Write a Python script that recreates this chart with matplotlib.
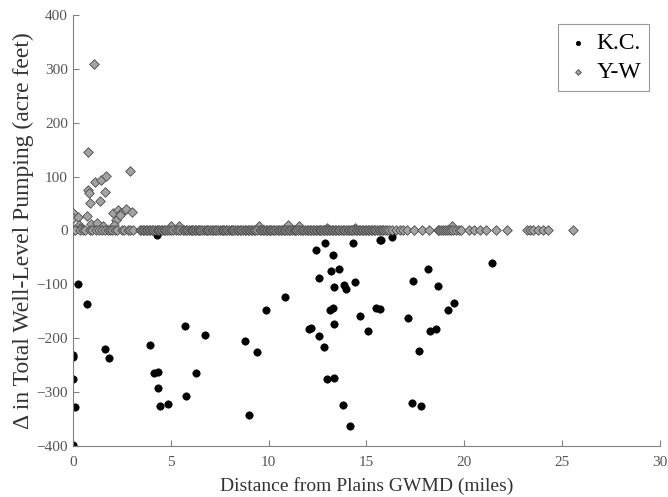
import matplotlib
matplotlib.use("Agg")
import matplotlib.pyplot as plt

# K.C. series
kc_x = [0.0, 0.0, 0.0, 0.02, 0.1, 0.27, 0.73, 1.63, 1.84, 3.96, 4.13, 4.37, 4.29, 4.34,
        4.46, 4.85, 5.73, 5.78, 6.28, 6.73, 8.79, 9.0, 9.42, 9.88, 10.82, 12.09,
        12.91, 14.29, 15.7, 15.73, 16.31, 12.45, 13.3, 13.2, 13.6, 12.6, 13.32, 13.86,
        13.95, 14.42, 13.13, 13.3, 14.66, 15.49, 15.7, 13.32, 12.19, 12.6, 12.81,
        15.09, 17.12, 17.4, 18.14, 18.66, 19.17, 19.5, 18.27, 18.57, 17.67, 21.44,
        12.99, 13.33, 13.79, 17.31, 17.79, 14.18]
kc_y = [-231, -234, -276, -398, -327, -100, -137, -220, -237, -212, -265, -262, -8, -292,
        -325, -322, -178, -308, -265, -194, -205, -342, -225, -148, -124, -182,
        -23, -23, -18, -18, -12, -37, -45, -75, -72, -88, -104, -101,
        -109, -95, -147, -144, -158, -144, -145, -174, -181, -196, -216,
        -186, -162, -93, -72, -103, -148, -134, -187, -183, -224, -61,
        -276, -274, -324, -321, -325, -362]

# Y-W series: scattered positive values near the district
yw_pos_x = [1.07, 0.8, 0.77, 0.82, 0.9, 1.14, 1.44, 1.72, 1.63, 1.38, 2.94, 0.02, 0.0, 0.24,
            0.73, 2.06, 2.31, 2.45, 2.72, 3.01, 2.23, 2.4, 0.92, 1.26, 0.3, 0.39, 1.55, 2.1,
            5.03, 5.4, 9.5, 11.0, 11.55, 19.37, 13.0, 14.4]
yw_pos_y = [309, 145, 75, 70, 51, 90, 93, 101, 71, 54, 111, 33, 24, 25,
            26, 32, 38, 33, 39, 35, 20, 28, 12, 13, 11, 5, 8, 10,
            8, 9, 8, 10, 8, 8, 5, 5]

# Y-W series: values at zero along the band
yw_zero_x = [0.0, 0.12, 0.35, 0.5, 0.62, 0.88, 1.0, 1.18, 1.32, 1.5, 1.62, 1.8, 1.92, 2.02,
             2.15, 2.28, 2.52, 2.63, 2.8, 2.92, 3.05,
             3.42, 3.5, 3.57, 3.66, 3.72, 3.81, 3.9, 3.96, 4.05, 4.12, 4.2, 4.28, 4.33, 4.41,
             4.5, 4.58, 4.66, 4.72, 4.8, 4.9, 5.0, 5.12, 5.25, 5.35, 5.5, 5.62, 5.7, 5.78,
             5.85, 5.95, 6.02, 6.1, 6.16, 6.22, 6.3, 6.38, 6.45, 6.52, 6.6, 6.7, 6.78, 6.86,
             6.92, 7.0, 7.1, 7.18, 7.25, 7.33, 7.4, 7.5, 7.6, 7.68, 7.75, 7.82, 7.9, 7.98,
             8.06, 8.12, 8.2, 8.3, 8.38, 8.45, 8.52, 8.6, 8.7, 8.78, 8.86, 8.95, 9.02, 9.1,
             9.18, 9.25, 9.33, 9.42, 9.55, 9.62, 9.7, 9.78, 9.85, 9.92, 10.0, 10.08, 10.15,
             10.22, 10.3, 10.38, 10.46, 10.55, 10.62, 10.7, 10.78, 10.85, 10.92, 11.05,
             11.12, 11.2, 11.28, 11.35, 11.42, 11.5, 11.6, 11.7, 11.78, 11.86, 11.95, 12.02,
             12.1, 12.18, 12.25, 12.32, 12.4, 12.48, 12.56, 12.62, 12.7, 12.78, 12.85,
             12.92, 13.0, 13.08, 13.15, 13.22, 13.3, 13.38, 13.46, 13.55, 13.62, 13.7,
             13.78, 13.86, 13.95, 14.05, 14.12, 14.2, 14.28, 14.36, 14.45, 14.52, 14.6,
             14.68, 14.76, 14.85, 14.92, 15.0, 15.08, 15.15, 15.22, 15.3, 15.38, 15.46,
             15.55, 15.62, 15.7, 15.78, 15.86, 15.95, 16.05, 16.15, 16.3, 16.5, 16.7, 16.85,
             17.05, 17.45, 17.84, 18.18, 18.64, 18.72, 18.8, 18.9, 19.0, 19.1, 19.2, 19.3,
             19.45, 19.6, 19.75, 19.83, 20.26, 20.5, 20.8, 21.1, 21.6, 22.2,
             23.2, 23.38, 23.5, 23.75, 24.0, 24.3, 25.55]
yw_zero_y = [0] * len(yw_zero_x)

yw_x = yw_pos_x + yw_zero_x
yw_y = yw_pos_y + yw_zero_y

plt.rcParams['font.family'] = ['Liberation Serif', 'DejaVu Serif']

fig = plt.figure(figsize=(6.68, 4.97), dpi=100)
ax = fig.add_axes([0.109, 0.1026, 0.879, 0.8674])

ax.scatter(kc_x, kc_y, s=28, marker='o', color='black', edgecolors='black',
           linewidths=0.5, label='K.C.', zorder=2)
ax.scatter(yw_x, yw_y, s=24, marker='D', color='#a3a3a3', edgecolors='#4a4a4a',
           linewidths=0.6, label='Y-W', zorder=3)

ax.set_xlim(0, 30)
ax.set_ylim(-400, 400)
ax.set_xticks([0, 5, 10, 15, 20, 25, 30])
ax.set_yticks([-400, -300, -200, -100, 0, 100, 200, 300, 400])

for side in ['top', 'right']:
    ax.spines[side].set_visible(False)
for side in ['left', 'bottom']:
    ax.spines[side].set_color('#808080')
    ax.spines[side].set_linewidth(0.8)

ax.tick_params(direction='in', length=4, width=0.8, color='#808080',
               labelcolor='#555555', labelsize=11)
ax.tick_params(axis='x', pad=7)

ax.set_xlabel('Distance from Plains GWMD (miles)', fontsize=14, color='#333333', labelpad=6)
ax.set_ylabel('\u0394 in Total Well-Level Pumping (acre feet)', fontsize=17,
              color='#333333', labelpad=2)

leg = ax.legend(loc='upper right', fontsize=17, frameon=True, fancybox=False,
                edgecolor='#808080', handletextpad=0.3, borderpad=0.35,
                markerscale=0.6, labelspacing=0.3, handlelength=1.0,
                bbox_to_anchor=(0.982, 0.978), borderaxespad=0.0)
leg.get_frame().set_linewidth(0.8)

fig.savefig('out.png', dpi=100)
